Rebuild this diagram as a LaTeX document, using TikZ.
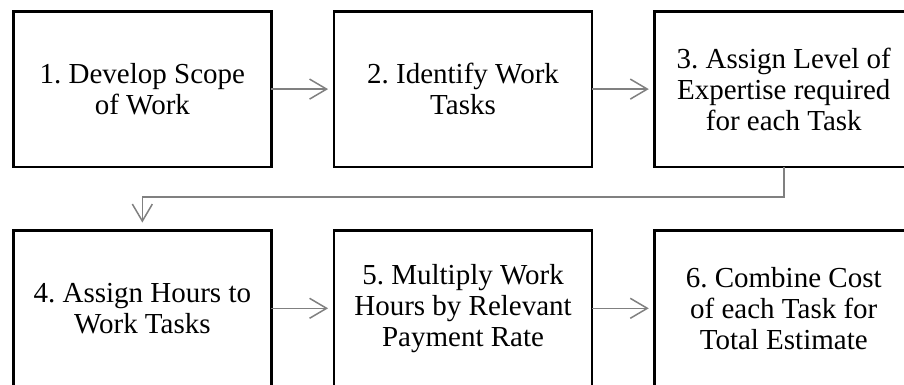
\documentclass[tikz,border=0pt]{standalone}
\usepackage{fontspec}
\setmainfont{Liberation Serif}
\usetikzlibrary{matrix}
\usetikzlibrary{arrows.meta}
\frenchspacing

\begin{document}
\begin{tikzpicture}[x=1pt,y=1pt,
  >={Straight Barb[length=17pt,width=20pt]},
  stage/.style={draw,line width=2.7pt,minimum width=258pt,minimum height=155.5pt,
    align=center,inner sep=0pt,font=\fontsize{29}{31}\selectfont},
  flow/.style={->,draw=gray,line width=1.5pt,shorten >=6pt}]
  \useasboundingbox (0,0) rectangle (904,-384);
  \clip (0,0) rectangle (904,-384);
  \matrix (est) [column sep=60pt,row sep=61pt,anchor=north west,inner sep=0pt,outer sep=0pt,at={(12,-10)}]
  {
    \node[stage] (scope) {1. Develop Scope\\of Work}; &
    \node[stage] (tasks) {2. Identify Work\\Tasks}; &
    \node[stage] (level) {3. Assign Level of\\Expertise required\\for each Task}; \\
    \node[stage] (hours) {4. Assign Hours to\\Work Tasks}; &
    \node[stage] (rate) {5. Multiply Work\\Hours by Relevant\\Payment Rate}; &
    \node[stage] (total) {6. Combine Cost\\of each Task for\\Total Estimate}; \\
  };
    \draw[flow] (scope) -- (tasks);
    \draw[flow] (tasks) -- (level);

    \draw[flow,shorten >=8pt] (level.south) -- ++(0,-30) -| (hours.north);

    \draw[flow] (hours) -- (rate);
    \draw[flow] (rate) -- (total);
\end{tikzpicture}
\end{document}
